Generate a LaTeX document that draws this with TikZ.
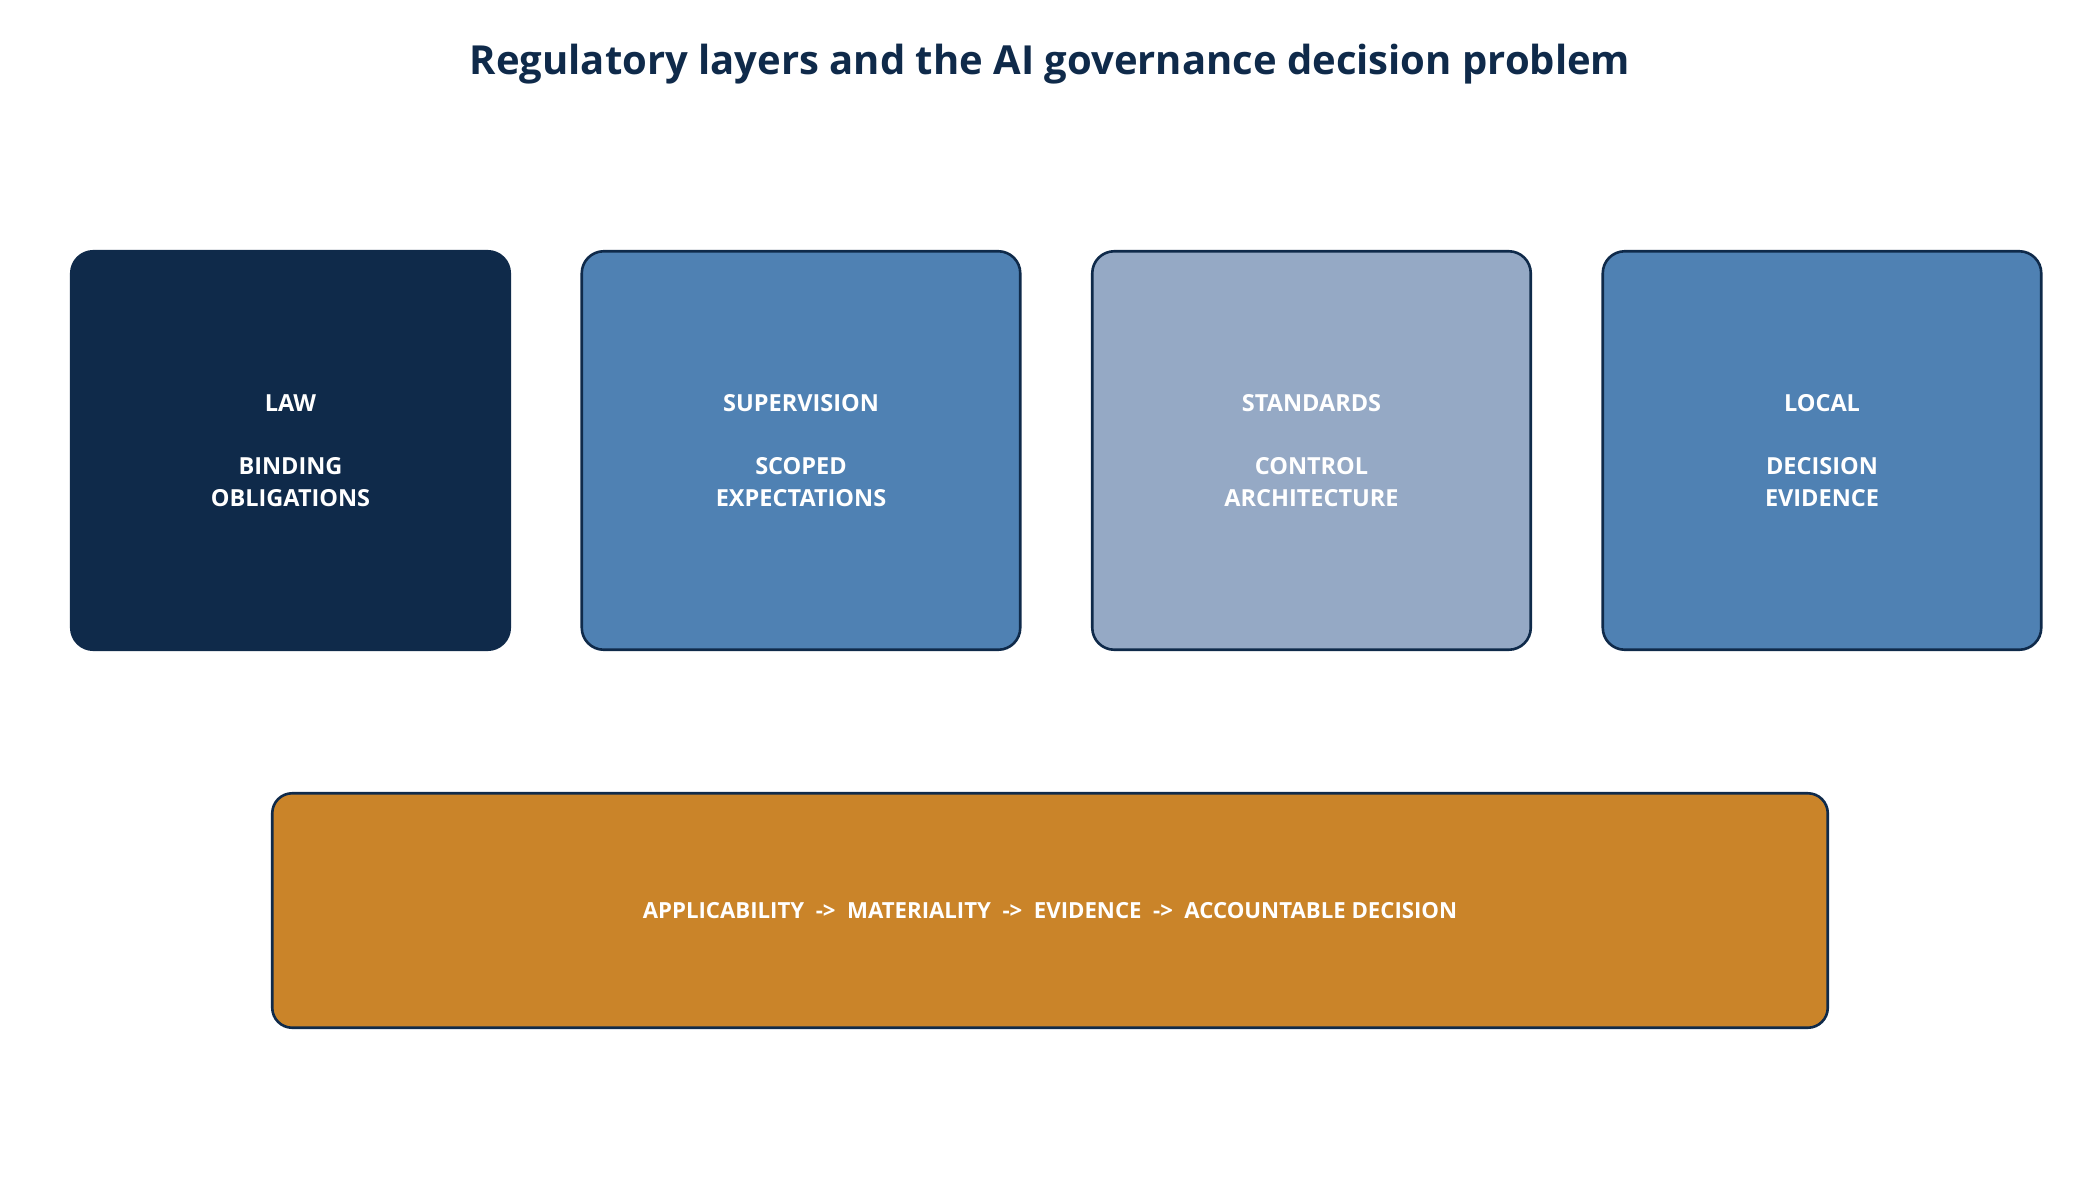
\documentclass[tikz,border=0pt]{standalone}
\usepackage{fontspec}
\setmainfont{Open Sans}
\definecolor{navy}{HTML}{0F2A4A}
\definecolor{midblue}{HTML}{4F81B3}
\definecolor{lightblue}{HTML}{95A9C5}
\definecolor{ochre}{HTML}{CA8429}
\begin{document}
\begin{tikzpicture}[x=1pt,y=-1pt,
  layerbox/.style={draw=navy, line width=2.6pt, rounded corners=22pt,
    minimum width=438.5pt, minimum height=398.5pt, inner sep=0pt,
    text=white, align=center, font=\bfseries\fontsize{23.5}{31.5}\selectfont},
  flowbox/.style={draw=navy, line width=2.6pt, rounded corners=20pt,
    minimum width=1555.5pt, minimum height=234.5pt, inner sep=0pt,
    text=white, align=center, font=\bfseries\fontsize{22.2}{31.5}\selectfont},
  titletext/.style={text=navy, font=\bfseries\fontsize{40}{48}\selectfont, inner sep=0pt}]
\useasboundingbox (0,0) rectangle (2100,1180);
\node[titletext, anchor=base] (title) at (1050,75) {Regulatory layers and the AI governance decision problem};
\node[layerbox, fill=navy] (law) at (290.5,450.5) {LAW\\[31.5pt]BINDING\\OBLIGATIONS};
\node[layerbox, fill=midblue] (sup) at (801,450.5) {SUPERVISION\\[31.5pt]SCOPED\\EXPECTATIONS};
\node[layerbox, fill=lightblue] (std) at (1311.5,450.5) {STANDARDS\\[31.5pt]CONTROL\\ARCHITECTURE};
\node[layerbox, fill=midblue] (loc) at (1822,450.5) {LOCAL\\[31.5pt]DECISION\\EVIDENCE};
\node[flowbox, fill=ochre] (flow) at (1050,910.5) {APPLICABILITY\ \ ->\ \ MATERIALITY\ \ ->\ \ EVIDENCE\ \ ->\ \ ACCOUNTABLE DECISION};
\end{tikzpicture}
\end{document}
